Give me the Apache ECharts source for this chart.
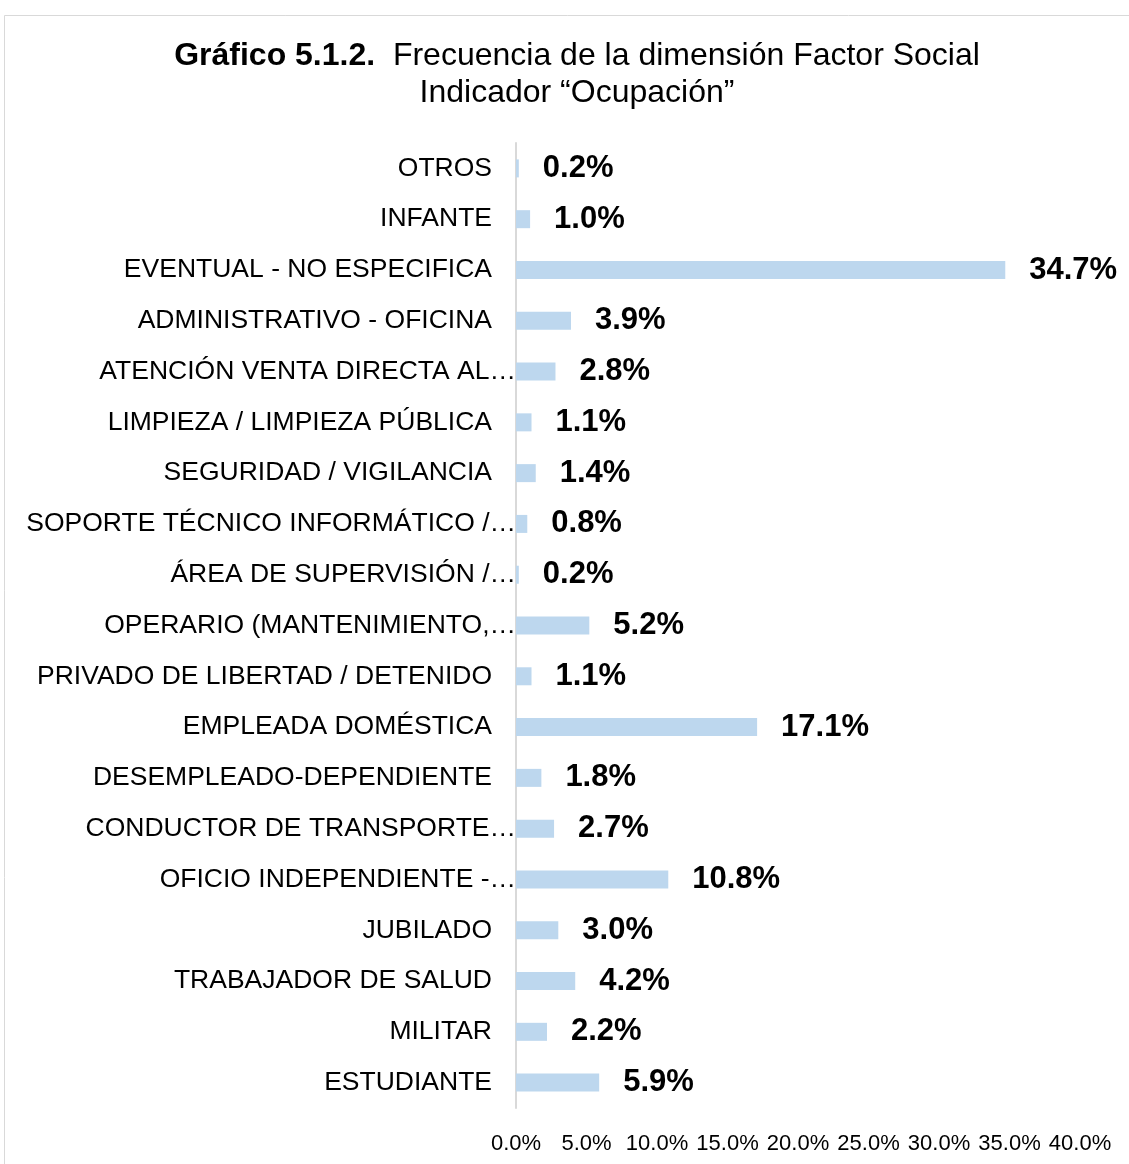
<!DOCTYPE html>
<html>
<head>
<meta charset="utf-8">
<script src="https://cdn.jsdelivr.net/npm/echarts@6/dist/echarts.min.js"></script>
<style>
  html, body { margin: 0; padding: 0; background: #fff; }
  #chart { width: 1129px; height: 1164px; }
</style>
</head>
<body>
<div id="chart"></div>
<script>
// categories from bottom to top, as drawn
const categories = [
  'ESTUDIANTE',
  'MILITAR',
  'TRABAJADOR DE SALUD',
  'JUBILADO',
  'OFICIO INDEPENDIENTE -…',
  'CONDUCTOR DE TRANSPORTE…',
  'DESEMPLEADO-DEPENDIENTE',
  'EMPLEADA DOMÉSTICA',
  'PRIVADO DE LIBERTAD / DETENIDO',
  'OPERARIO (MANTENIMIENTO,…',
  'ÁREA DE SUPERVISIÓN /…',
  'SOPORTE TÉCNICO INFORMÁTICO /…',
  'SEGURIDAD / VIGILANCIA',
  'LIMPIEZA / LIMPIEZA PÚBLICA',
  'ATENCIÓN VENTA DIRECTA AL…',
  'ADMINISTRATIVO - OFICINA',
  'EVENTUAL - NO ESPECIFICA',
  'INFANTE',
  'OTROS'
]
const values = [5.9, 2.2, 4.2, 3.0, 10.8, 2.7, 1.8, 17.1, 1.1, 5.2, 0.2, 0.8, 1.4, 1.1, 2.8, 3.9, 34.7, 1.0, 0.2]
const xTicks = [0, 5, 10, 15, 20, 25, 30, 35, 40]

const chart = echarts.init(document.getElementById('chart'))

const option = {
  animation: false,
  backgroundColor: '#fff',
  title: {
    text: '{b|Gráfico 5.1.2.}  Frecuencia de la dimensión Factor Social\nIndicador “Ocupación”',
    left: 572,
    textAlign: 'center',
    top: 33,
    textStyle: {
      fontFamily: 'Liberation Sans, Arial',
      fontSize: 32,
      fontWeight: 'normal',
      color: '#000',
      lineHeight: 37,
      rich: {
        b: { fontFamily: 'Liberation Sans, Arial', fontSize: 32, fontWeight: 'bold', color: '#000', lineHeight: 37 }
      }
    }
  },
  graphic: [{
    type: 'rect',
    shape: { x: 4.5, y: 15.5, width: 1300, height: 1300 },
    style: { fill: 'none', stroke: '#d9d9d9', lineWidth: 1 },
    silent: true
  }],
  grid: { left: 516, right: 49, top: 143, bottom: 56 },
  xAxis: {
    type: 'value',
    min: xTicks[0],
    max: xTicks[xTicks.length - 1],
    interval: 5,
    axisLine: { show: false },
    axisTick: { show: false },
    splitLine: { show: false },
    axisLabel: {
      margin: 25,
      fontFamily: 'Liberation Sans, Arial',
      fontSize: 22,
      color: '#000',
      formatter: v => v.toFixed(1) + '%'
    }
  },
  yAxis: {
    type: 'category',
    data: categories,
    axisLine: { show: true, lineStyle: { color: '#d9d9d9', width: 2 } },
    axisTick: { show: false },
    axisLabel: {
      margin: 24,
      fontFamily: 'Liberation Sans, Arial',
      fontSize: 26.5,
      color: '#000',
      interval: 0,
      formatter: v => v.endsWith('…') ? '{t|' + v + '}' : v,
      rich: {
        t: { fontFamily: 'Liberation Sans, Arial', fontSize: 26.5, color: '#000', padding: [0, -24, 0, 0] }
      }
    }
  },
  series: [{
    type: 'bar',
    data: values,
    barWidth: 18,
    itemStyle: { color: '#bdd7ee' },
    label: {
      show: true,
      position: 'right',
      distance: 24,
      fontFamily: 'Liberation Sans, Arial',
      fontSize: 31,
      fontWeight: 'bold',
      color: '#000',
      formatter: p => p.value.toFixed(1) + '%'
    }
  }]
}

chart.setOption(option)
</script>
</body>
</html>
